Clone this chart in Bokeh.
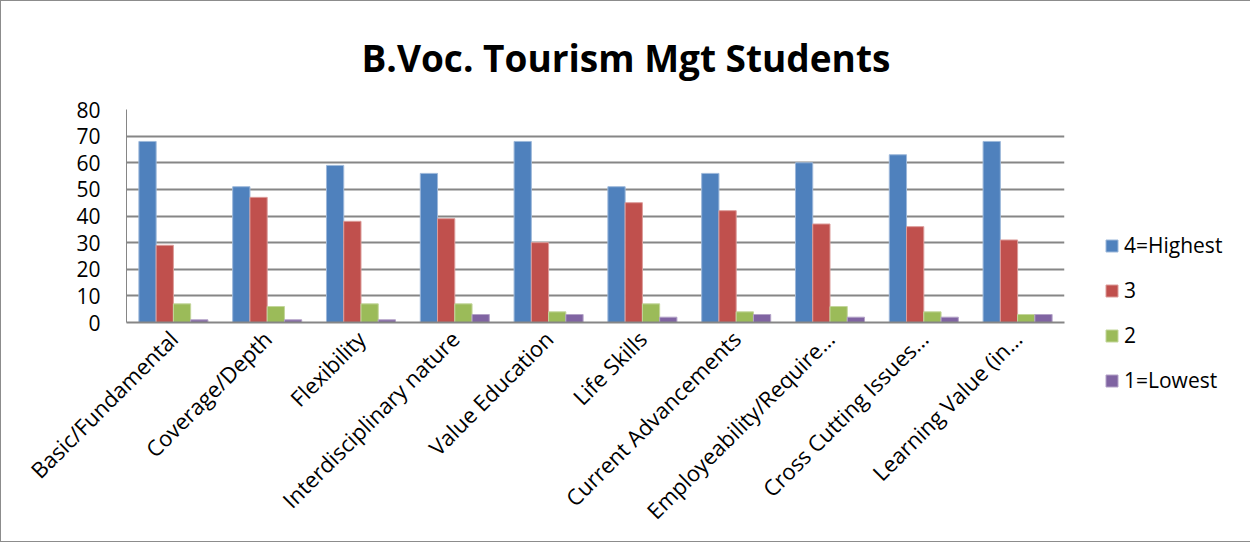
from bokeh.plotting import figure
from bokeh.models import FactorRange, Range1d, Legend, LegendItem, ColumnDataSource, SingleIntervalTicker
from bokeh.transform import dodge
from bokeh.embed import file_html
from bokeh.resources import INLINE
import math

categories = ["Basic/Fundamental", "Coverage/Depth", "Flexibility", "Interdisciplinary nature",
              "Value Education", "Life Skills", "Current Advancements", "Employeability/Require…",
              "Cross Cutting Issues…", "Learning Value (in…"]
series_names = ["4=Highest", "3", "2", "1=Lowest"]
highest = [68, 51, 59, 56, 68, 51, 56, 60, 63, 68]
three = [29, 47, 38, 39, 30, 45, 42, 37, 36, 31]
two = [7, 6, 7, 7, 4, 7, 4, 6, 4, 3]
lowest = [1, 1, 1, 3, 3, 2, 3, 2, 2, 3]
colors = ["#4F81BD", "#C0504D", "#9BBB59", "#8064A2"]
edge_colors = ["#9db8da", "#dc9c9a", "#c3d69b", "#b3a2c7"]
y_ticks_step = 10

source = ColumnDataSource(dict(cat=categories, s0=highest, s1=three, s2=two, s3=lowest))

FONT = "Open Sans"
p = figure(x_range=FactorRange(factors=categories), y_range=Range1d(0, 80),
           width=1242, height=540, frame_width=938, frame_height=213,
           min_border_left=125, min_border_right=179, min_border_top=108, min_border_bottom=219,
           output_backend="svg", toolbar_location=None, title="B.Voc. Tourism Mgt Students")
p.styles = {"border": "1px solid #8c8c8c", "box-sizing": "border-box"}

p.title.align = "left"
p.title.text_font = FONT
p.title.text_font_size = "37px"
p.title.text_font_style = "bold"
p.title.text_color = "black"
p.title.standoff = 53
p.title.offset = 235

w = 0.184
offsets = [-1.5 * w, -0.5 * w, 0.5 * w, 1.5 * w]
renderers = []
for i, (name, col, ec) in enumerate(zip(series_names, colors, edge_colors)):
    r = p.vbar(x=dodge("cat", offsets[i], range=p.x_range), top=f"s{i}", width=w,
               source=source, fill_color=col, line_color=ec, line_width=1)
    renderers.append(r)

p.outline_line_color = None
p.xgrid.grid_line_color = None
p.ygrid.grid_line_color = "#868686"
p.ygrid.grid_line_width = 2
p.yaxis.ticker = SingleIntervalTicker(interval=y_ticks_step)
p.yaxis.axis_line_color = "#868686"
p.yaxis.axis_line_width = 1
p.yaxis.major_tick_line_color = None
p.yaxis.minor_tick_line_color = None
p.yaxis.major_label_text_font = FONT
p.yaxis.major_label_text_font_size = "21px"
p.yaxis.major_label_text_color = "black"
p.yaxis.major_label_standoff = 20

p.xaxis.axis_line_color = "#868686"
p.xaxis.axis_line_width = 2
p.xaxis.major_tick_line_color = None
p.xaxis.major_label_orientation = math.pi / 4
p.xaxis.major_label_text_font = FONT
p.xaxis.major_label_text_font_size = "22px"
p.xaxis.major_label_text_color = "black"
p.xaxis.major_label_standoff = 6

legend = Legend(items=[LegendItem(label=n, renderers=[r]) for n, r in zip(series_names, renderers)],
                location=(40, -72), border_line_color=None, background_fill_alpha=0,
                label_text_font=FONT, label_text_font_size="21px", label_text_color="black",
                glyph_width=15, glyph_height=15, label_standoff=5, spacing=17, padding=0, margin=0)
p.add_layout(legend, "right")

open("out.html", "w").write(file_html(p, INLINE))
